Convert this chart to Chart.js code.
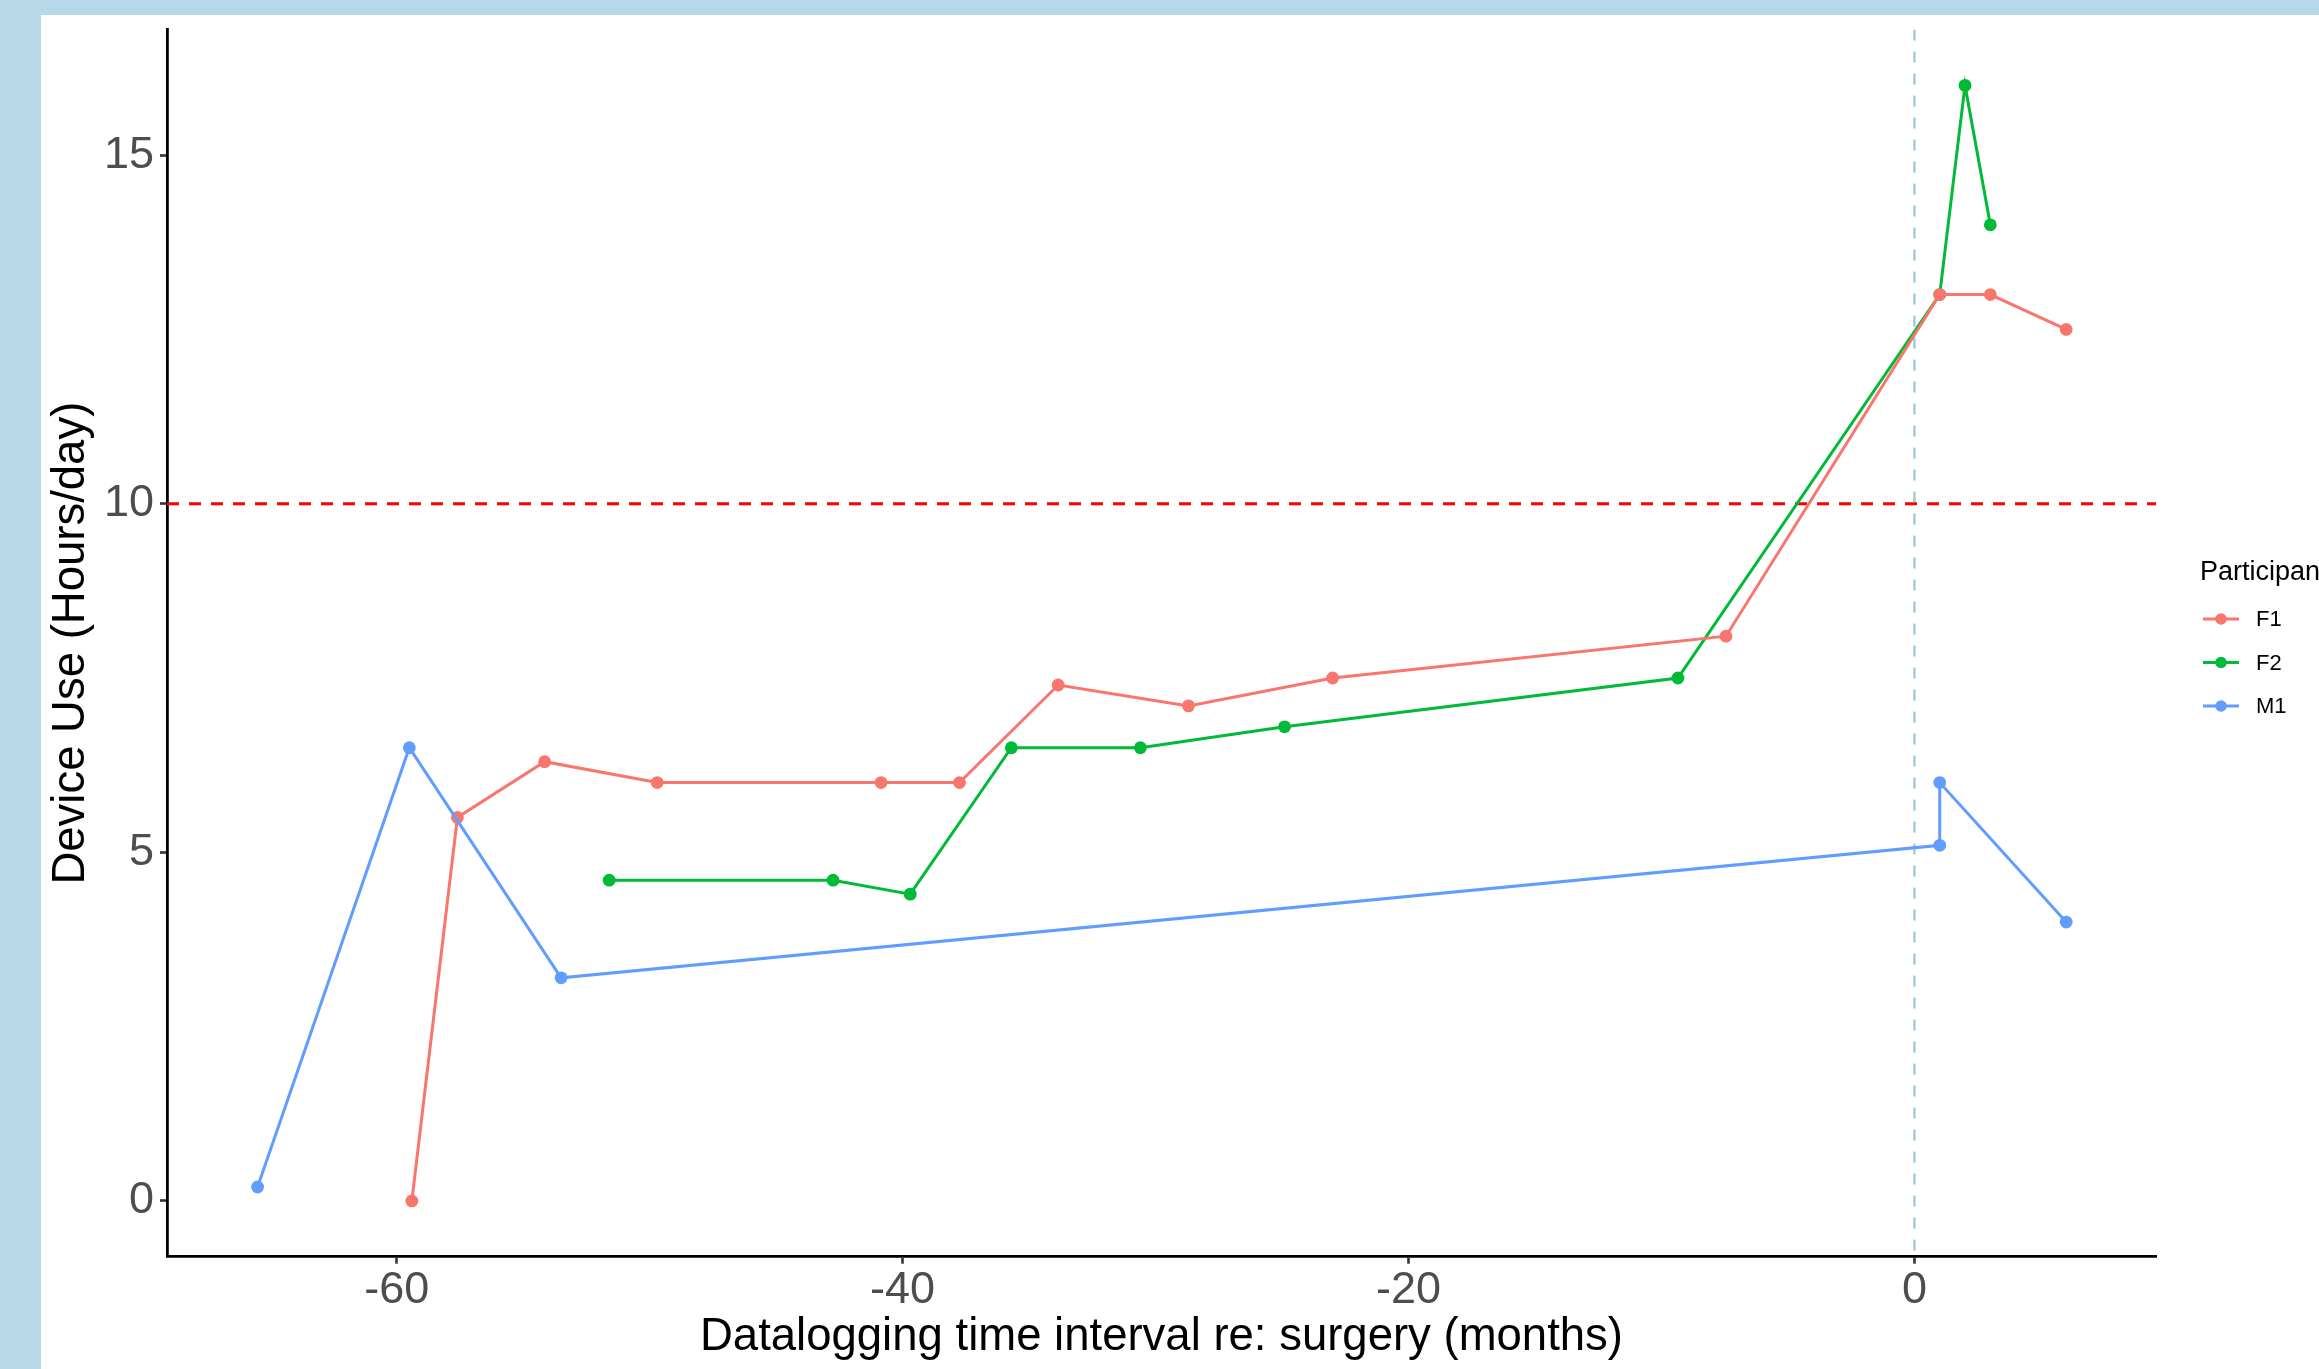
<!DOCTYPE html>
<html>
<head>
<meta charset="utf-8">
<script src="https://cdn.jsdelivr.net/npm/chart.js@4.4.1/dist/chart.umd.min.js"></script>
<style>
    html, body { margin: 0; padding: 0; background: #b8d8ea; }
    body { width: 2319px; height: 1369px; overflow: hidden; position: relative; }
    #wrap { position: absolute; left: 41px; top: 15px; width: 2278px; height: 1354px; background: #fff; }
    canvas { display: block; }
</style>
</head>
<body>
<div id="wrap"><canvas id="chart" width="2278" height="1354"></canvas></div>
<script>
// months relative to surgery / hours per day
var f1Months = [-59.4, -57.6, -54.15, -49.7, -40.85, -37.75, -33.85, -28.7, -23.0, -7.45, 1.0, 3.0, 6.0];
var f1Hours = [0, 5.5, 6.3, 6.0, 6.0, 6.0, 7.4, 7.1, 7.5, 8.1, 13.0, 13.0, 12.5];

var f2Months = [-51.6, -42.75, -39.7, -35.7, -30.6, -24.9, -9.35, 1.0, 2.0, 3.0];
var f2Hours = [4.6, 4.6, 4.4, 6.5, 6.5, 6.8, 7.5, 13.0, 16.0, 14.0];

var m1Months = [-65.5, -59.5, -53.5, 1.0, 1.0, 6.0];
var m1Hours = [0.2, 6.5, 3.2, 5.1, 6.0, 4.0];

var participants = ['F1', 'F2', 'M1'];
var colors = ['#F8766D', '#00BA38', '#619CFF'];
var drawOrder = [2, 3, 1];   // higher = drawn further back

var xTicks = [-60, -40, -20, 0];
var yTicks = [0, 5, 10, 15];
var xRange = [-69.08, 9.55];
var yRange = [-0.8, 16.8];

var targetHours = 10;   // red dashed line
var surgeryMonth = 0;   // blue dashed line

var FONT = "'Liberation Sans', Arial, Helvetica, sans-serif";

function points(xs, ys) {
    var out = [];
    for (var i = 0; i < xs.length; i++) {
        out.push({ x: xs[i], y: ys[i] });
    }
    return out;
}

function series(i, xs, ys) {
    return {
        label: participants[i],
        data: points(xs, ys),
        borderColor: colors[i],
        backgroundColor: colors[i],
        borderWidth: 3,
        pointRadius: 6.4,
        pointBorderWidth: 0,
        pointHoverRadius: 6.4,
        tension: 0,
        order: drawOrder[i],
        inLegend: true
    };
}

// ggplot-like legend at the right edge (it runs off the page in the original)
var sideLegend = {
    id: 'sideLegend',
    afterDraw: function (chart) {
        var ctx = chart.ctx;
        var x0 = 2159, y0 = 565;
        ctx.save();
        ctx.fillStyle = '#000';
        ctx.font = '27px ' + FONT;
        ctx.textBaseline = 'alphabetic';
        ctx.textAlign = 'left';
        ctx.fillText('Participant', x0, y0);

        var ds = chart.data.datasets.filter(function (d) { return d.inLegend; });
        for (var i = 0; i < ds.length; i++) {
            var y = 604 + i * 43.5;
            ctx.strokeStyle = ds[i].borderColor;
            ctx.lineWidth = 3;
            ctx.beginPath();
            ctx.moveTo(2162, y);
            ctx.lineTo(2198, y);
            ctx.stroke();
            ctx.fillStyle = ds[i].borderColor;
            ctx.beginPath();
            ctx.arc(2180, y, 5.8, 0, Math.PI * 2);
            ctx.fill();
            ctx.fillStyle = '#000';
            ctx.font = '22px ' + FONT;
            ctx.textBaseline = 'middle';
            ctx.fillText(ds[i].label, 2215, y + 1);
        }
        ctx.restore();
    }
};

var datasets = [
    series(0, f1Months, f1Hours),
    series(1, f2Months, f2Hours),
    series(2, m1Months, m1Hours),
    {
        label: 'target',
        data: points(xRange, [targetHours, targetHours]),
        borderColor: '#ff0000',
        borderWidth: 3,
        borderDash: [12, 10],
        pointRadius: 0,
        order: 10
    },
    {
        label: 'surgery',
        data: points([surgeryMonth, surgeryMonth], [yRange[1], yRange[0]]),
        borderColor: '#9ccbe0',
        borderWidth: 2.4,
        borderDash: [11, 11],
        pointRadius: 0,
        order: 11
    }
];

new Chart(document.getElementById('chart'), {
    type: 'line',
    data: { datasets: datasets },
    plugins: [sideLegend],
    options: {
        responsive: false,
        animation: false,
        devicePixelRatio: 1,
        layout: { padding: { left: 0, top: 14.6, right: 163, bottom: 0 } },
        plugins: {
            legend: { display: false },
            tooltip: { enabled: false }
        },
        scales: {
            x: {
                type: 'linear',
                min: xRange[0],
                max: xRange[1],
                afterBuildTicks: function (s) { s.ticks = xTicks.map(function (v) { return { value: v }; }); },
                afterFit: function (s) { s.height = 112.3; s.paddingLeft = 0; s.paddingRight = 0; },
                grid: { display: true, drawOnChartArea: false, drawTicks: true, tickLength: 7, tickColor: '#333', tickWidth: 2.6 },
                border: { display: true, color: '#000', width: 2.8 },
                ticks: { color: '#4d4d4d', padding: 0, maxRotation: 0, autoSkip: false, font: { family: FONT, size: 45 } },
                title: {
                    display: true,
                    text: 'Datalogging time interval re: surgery (months)',
                    color: '#000',
                    font: { family: FONT, size: 45.5 },
                    padding: { top: 0, bottom: 4.5 }
                }
            },
            y: {
                type: 'linear',
                min: yRange[0],
                max: yRange[1],
                afterBuildTicks: function (s) { s.ticks = yTicks.map(function (v) { return { value: v }; }); },
                afterFit: function (s) { s.width = 126; s.paddingTop = 0; s.paddingBottom = 0; },
                grid: { display: true, drawOnChartArea: false, drawTicks: true, tickLength: 7, tickColor: '#333', tickWidth: 2.6 },
                border: { display: true, color: '#000', width: 2.8 },
                ticks: { color: '#4d4d4d', padding: 6, autoSkip: false, font: { family: FONT, size: 45 } },
                title: {
                    display: true,
                    text: 'Device Use (Hours/day)',
                    color: '#000',
                    font: { family: FONT, size: 45.5 },
                    padding: { top: 3, bottom: 0 }
                }
            }
        }
    }
});
</script>
</body>
</html>
